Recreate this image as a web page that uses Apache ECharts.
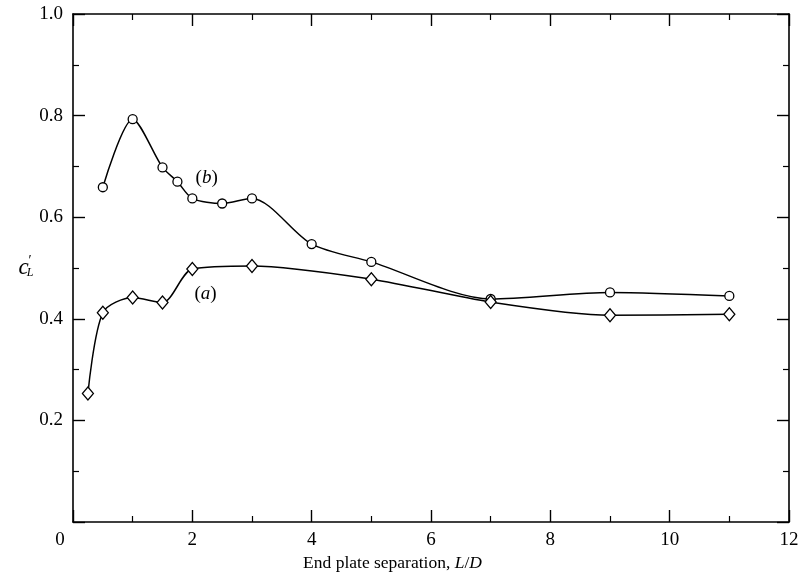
<!DOCTYPE html>
<html>
<head>
<meta charset="utf-8">
<script src="https://cdn.jsdelivr.net/npm/echarts@6/dist/echarts.min.js"></script>
<style>
  html, body { margin: 0; padding: 0; background: #fff; }
  #chart { width: 802px; height: 581px; }
</style>
</head>
<body>
<div id="chart"></div>
<script>
// Lift coefficient c'_L against end plate separation L/D
const xB = [0.5, 1.0, 1.5, 1.75, 2.0, 2.5, 3.0, 4.0, 5.0, 7.0, 9.0, 11.0];
const yB = [0.659, 0.793, 0.698, 0.670, 0.637, 0.627, 0.637, 0.547, 0.512, 0.439, 0.452, 0.445];
const xA = [0.25, 0.5, 1.0, 1.5, 2.0, 3.0, 5.0, 7.0, 9.0, 11.0];
const yA = [0.253, 0.412, 0.442, 0.432, 0.498, 0.504, 0.478, 0.433, 0.407, 0.409];
const xTicks = [0, 2, 4, 6, 8, 10, 12];
const yTicks = [0.2, 0.4, 0.6, 0.8, 1.0];
// curve tags and where they sit, in data units
const tagB = { text: 'b', at: [2.24, 0.677] };
const tagA = { text: 'a', at: [2.22, 0.449] };

const FONT = 'Liberation Serif';
const INK = '#000';

const pairs = (xs, ys) => xs.map((x, i) => [x, ys[i]]);

function axisBase(extra) {
  return Object.assign({
    type: 'value',
    axisLine: { show: true, onZero: false, lineStyle: { color: INK, width: 1.6 } },
    axisTick: { show: true, inside: true, length: 12, lineStyle: { color: INK, width: 1.4 } },
    minorTick: { show: true, splitNumber: 2, length: 6, lineStyle: { color: INK, width: 1.2 } },
    splitLine: { show: false },
    minorSplitLine: { show: false }
  }, extra);
}

const xLabel = {
  show: true, color: INK, fontFamily: FONT, fontSize: 19, margin: 9,
  formatter: v => (xTicks.includes(v) ? (v === 0 ? '{o|0}' : String(v)) : ''),
  rich: { o: { fontFamily: FONT, fontSize: 19, color: INK, padding: [0, 26, 0, 0] } }
};
const yLabel = {
  show: true, color: INK, fontFamily: FONT, fontSize: 19, margin: 10,
  formatter: v => {
    const t = yTicks.find(k => Math.abs(k - v) < 1e-6);
    return t === undefined ? '' : t.toFixed(1);
  }
};

const lineStyle = { color: INK, width: 1.5 };
const pointStyle = { color: '#fff', borderColor: INK, borderWidth: 1.3 };

function tagMark(tag) {
  return {
    symbol: 'circle', symbolSize: 1,
    itemStyle: { color: 'transparent' },
    label: {
      show: true, position: 'inside', formatter: '{n|(}{i|' + tag.text + '}{n|)}',
      rich: {
        n: { fontFamily: FONT, fontSize: 19, color: INK },
        i: { fontFamily: FONT, fontSize: 19, color: INK, fontStyle: 'italic' }
      }
    },
    data: [{ coord: tag.at }]
  };
}

const option = {
  backgroundColor: '#fff',
  animation: false,
  grid: { left: 73, right: 13, top: 14, bottom: 59 },
  xAxis: [
    axisBase({
      min: 0, max: 12, interval: 2, position: 'bottom',
      axisLabel: xLabel,
      name: '{t|End plate separation, }{i|L}{t|/}{i|D}',
      nameLocation: 'middle', nameGap: 31,
      nameTextStyle: {
        padding: [0, 77, 0, 0],
        rich: {
          t: { fontFamily: FONT, fontSize: 17.5, color: INK },
          i: { fontFamily: FONT, fontSize: 17.5, color: INK, fontStyle: 'italic' }
        }
      }
    }),
    axisBase({ min: 0, max: 12, interval: 2, position: 'top', axisLabel: { show: false } })
  ],
  yAxis: [
    axisBase({
      min: 0, max: 1, interval: 0.2, position: 'left',
      axisLabel: yLabel,
      name: '{c|c}{p|′}{s|L}',
      nameLocation: 'middle', nameRotate: 0, nameGap: 38,
      nameTextStyle: {
        rich: {
          c: { fontFamily: FONT, fontSize: 23, color: INK, fontStyle: 'italic' },
          p: { fontFamily: FONT, fontSize: 14, color: INK, padding: [0, 0, 14, 0] },
          s: { fontFamily: FONT, fontSize: 12, color: INK, fontStyle: 'italic', padding: [10, 0, 0, -5] }
        }
      }
    }),
    axisBase({ min: 0, max: 1, interval: 0.2, position: 'right', axisLabel: { show: false } })
  ],
  series: [
    {
      name: '(b)', type: 'line', smooth: 0.28,
      data: pairs(xB, yB),
      symbol: 'circle', symbolSize: 9,
      lineStyle, itemStyle: pointStyle,
      markPoint: tagMark(tagB)
    },
    {
      name: '(a)', type: 'line', smooth: 0.28,
      data: pairs(xA, yA),
      symbol: 'diamond', symbolSize: [11, 13],
      lineStyle, itemStyle: pointStyle,
      markPoint: tagMark(tagA)
    }
  ]
};

const chart = echarts.init(document.getElementById('chart'), null, { renderer: 'canvas' });
chart.setOption(option);
</script>
</body>
</html>
